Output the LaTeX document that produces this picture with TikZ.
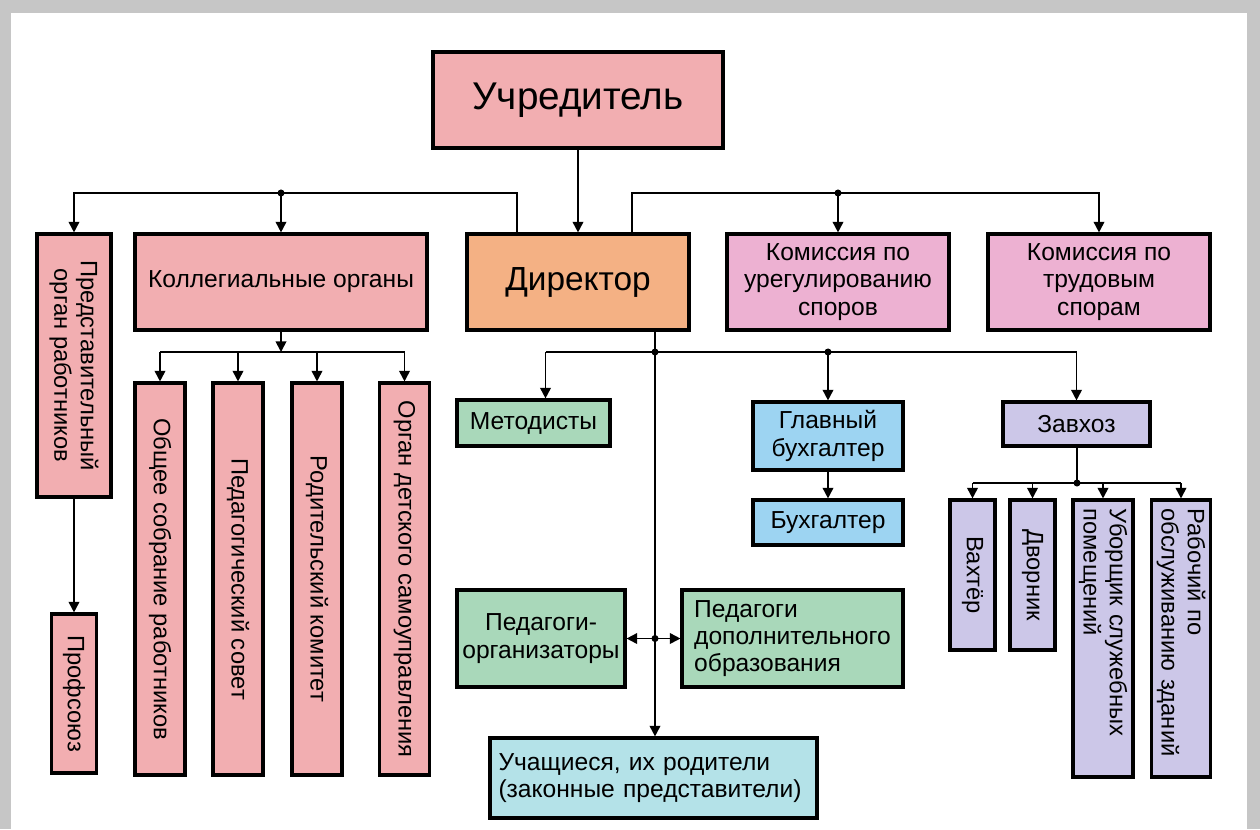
\documentclass[tikz,border=0pt]{standalone}
\usepackage{fontspec}
\setmainfont{Liberation Sans}
\usetikzlibrary{arrows.meta,calc}
\definecolor{rosa}{HTML}{F2AEB1}
\definecolor{kommis}{HTML}{EDB1D2}
\definecolor{dircol}{HTML}{F4B184}
\definecolor{gruen}{HTML}{A9D8BA}
\definecolor{blau}{HTML}{9DD4F2}
\definecolor{tuerkis}{HTML}{B4E2E8}
\definecolor{lila}{HTML}{CCC7E8}

\begin{document}
\begin{tikzpicture}[x=0.02cm,y=-0.02cm,
    box/.style={draw=black,line width=1.8pt,inner sep=3pt,align=center,font=\fontsize{14}{15.5}\selectfont},
    vbox/.style={box,rotate=-90,font=\fontsize{13.5}{15}\selectfont},
    link/.style={line width=1pt},
    arr/.style={link,-{Triangle[length=6pt,width=6pt]}},
    darr/.style={link,{Triangle[length=6pt,width=6pt]}-{Triangle[length=6pt,width=6pt]}}]
    \useasboundingbox(0,0)rectangle(1260,829);
    \fill[gray!45](0,0)rectangle(1260,829);
    \fill[white](11,13)rectangle(1247,829);
    % upper row
    \node[box,fill=rosa,minimum width=5.8cm,minimum height=1.92cm,font=\fontsize{22}{26}\selectfont](uchr) at (578,100){Учредитель};
    \node[box,fill=dircol,minimum width=4.44cm,minimum height=1.92cm,font=\fontsize{19}{22}\selectfont](dir) at (578,282){Директор};
    \node[box,fill=rosa,minimum width=5.84cm,minimum height=1.92cm](koll) at (281,282){Коллегиальные органы};
    \node[vbox,fill=rosa,minimum width=5.26cm,minimum height=1.48cm](pred) at (74,365.5){Представительный\\орган работников};
    \node[vbox,fill=rosa,minimum width=3.18cm,minimum height=0.9cm](prof) at (74,693.5){Профсоюз};
    \node[box,fill=kommis,minimum width=4.44cm,minimum height=1.92cm](kom1) at (838,282){Комиссия по\\урегулированию\\споров};
    \node[box,fill=kommis,minimum width=4.44cm,minimum height=1.92cm](kom2) at (1099,282){Комиссия по\\трудовым\\спорам};
    % collegial bodies
    \node[vbox,fill=rosa,minimum width=7.84cm,minimum height=1cm](obsh) at (160,579){Общее собрание работников};
    \node[vbox,fill=rosa,minimum width=7.84cm,minimum height=1cm](ped) at (238,579){Педагогический совет};
    \node[vbox,fill=rosa,minimum width=7.84cm,minimum height=1cm](rod) at (317,579){Родительский комитет};
    \node[vbox,fill=rosa,minimum width=7.84cm,minimum height=1cm](samo) at (404.5,579){Орган детского самоуправления};
    % under the director
    \node[box,fill=gruen,minimum width=3.06cm,minimum height=0.92cm](met) at (533.5,423){Методисты};
    \node[box,fill=blau,minimum width=3cm,minimum height=1.36cm](glav) at (828,436){Главный\\бухгалтер};
    \node[box,fill=blau,minimum width=3cm,minimum height=0.9cm](buh) at (828,522.5){Бухгалтер};
    \node[box,fill=lila,minimum width=2.94cm,minimum height=0.88cm](zav) at (1076.5,424){Завхоз};
    \node[box,fill=gruen,minimum width=3.36cm,minimum height=1.94cm](porg) at (541,638.5){Педагоги-\\организаторы};
    \node[box,fill=gruen,minimum width=4.42cm,minimum height=1.94cm,align=left](pdop) at (792.5,638.5){Педагоги\\дополнительного\\образования};
    \node[box,fill=tuerkis,minimum width=6.54cm,minimum height=1.6cm,text width=6.2cm,align=left](uch) at (653.5,778){Учащиеся, их родители\\(законные представители)};
    % staff of the Zavkhoz
    \node[vbox,fill=lila,minimum width=3cm,minimum height=0.9cm](vaht) at (972.5,575){Вахтёр};
    \node[vbox,fill=lila,minimum width=3cm,minimum height=0.9cm](dvor) at (1032.5,575){Дворник};
    \node[vbox,fill=lila,minimum width=5.54cm,minimum height=1.2cm,text width=5.2cm,align=left](ubor) at (1103,638.5){Уборщик служебных\\помещений};
    \node[vbox,fill=lila,minimum width=5.54cm,minimum height=1.16cm,text width=5.2cm,align=left](rab) at (1181,638.5){Рабочий по\\обслуживанию зданий};
    % connectors
    \coordinate(lbus) at (517,193);
    \coordinate(rbus) at (632,193);
    \coordinate(kbus) at (281,352);
    \coordinate(dbus) at (655,352);
    \coordinate(zbus) at (1077,483);
    \coordinate(mtop) at ($(met.north)+(12,0)$);
    \draw[arr](uchr)--(dir);
    \draw[arr](lbus |- dir.north)--(lbus)-|(pred);
    \draw[arr](koll |- lbus)--(koll);
    \fill(koll |- lbus)circle(2pt);
    \draw[arr](rbus |- dir.north)--(rbus)-|(kom2);
    \draw[arr](kom1 |- rbus)--(kom1);
    \fill(kom1 |- rbus)circle(2pt);
    \draw[arr](pred)--(prof);
    \draw[arr](koll)--(kbus);
    \draw[link](kbus -| obsh)--(kbus -| samo);
    \foreach \n in {obsh,ped,rod,samo}
        \draw[arr](kbus -| \n)--(\n);
    \draw[arr](dbus |- dir.south)--(dbus |- uch.north);
    \draw[link](dbus -| mtop)--(dbus -| zav);
    \draw[arr](dbus -| mtop)--(mtop);
    \foreach \n in {glav,zav}
        \draw[arr](dbus -| \n)--(\n);
    \fill(dbus)circle(2pt);
    \fill(dbus -| glav)circle(2pt);
    \draw[arr](glav)--(buh);
    \draw[darr](porg)--(pdop);
    \fill(dbus |- porg)circle(2pt);
    \draw[link](zbus |- zav.south)--(zbus);
    \draw[link](zbus -| vaht)--(zbus -| rab);
    \foreach \n in {vaht,dvor,ubor,rab}
        \draw[arr](zbus -| \n)--(\n);
    \fill(zbus)circle(2pt);
\end{tikzpicture}
\end{document}
